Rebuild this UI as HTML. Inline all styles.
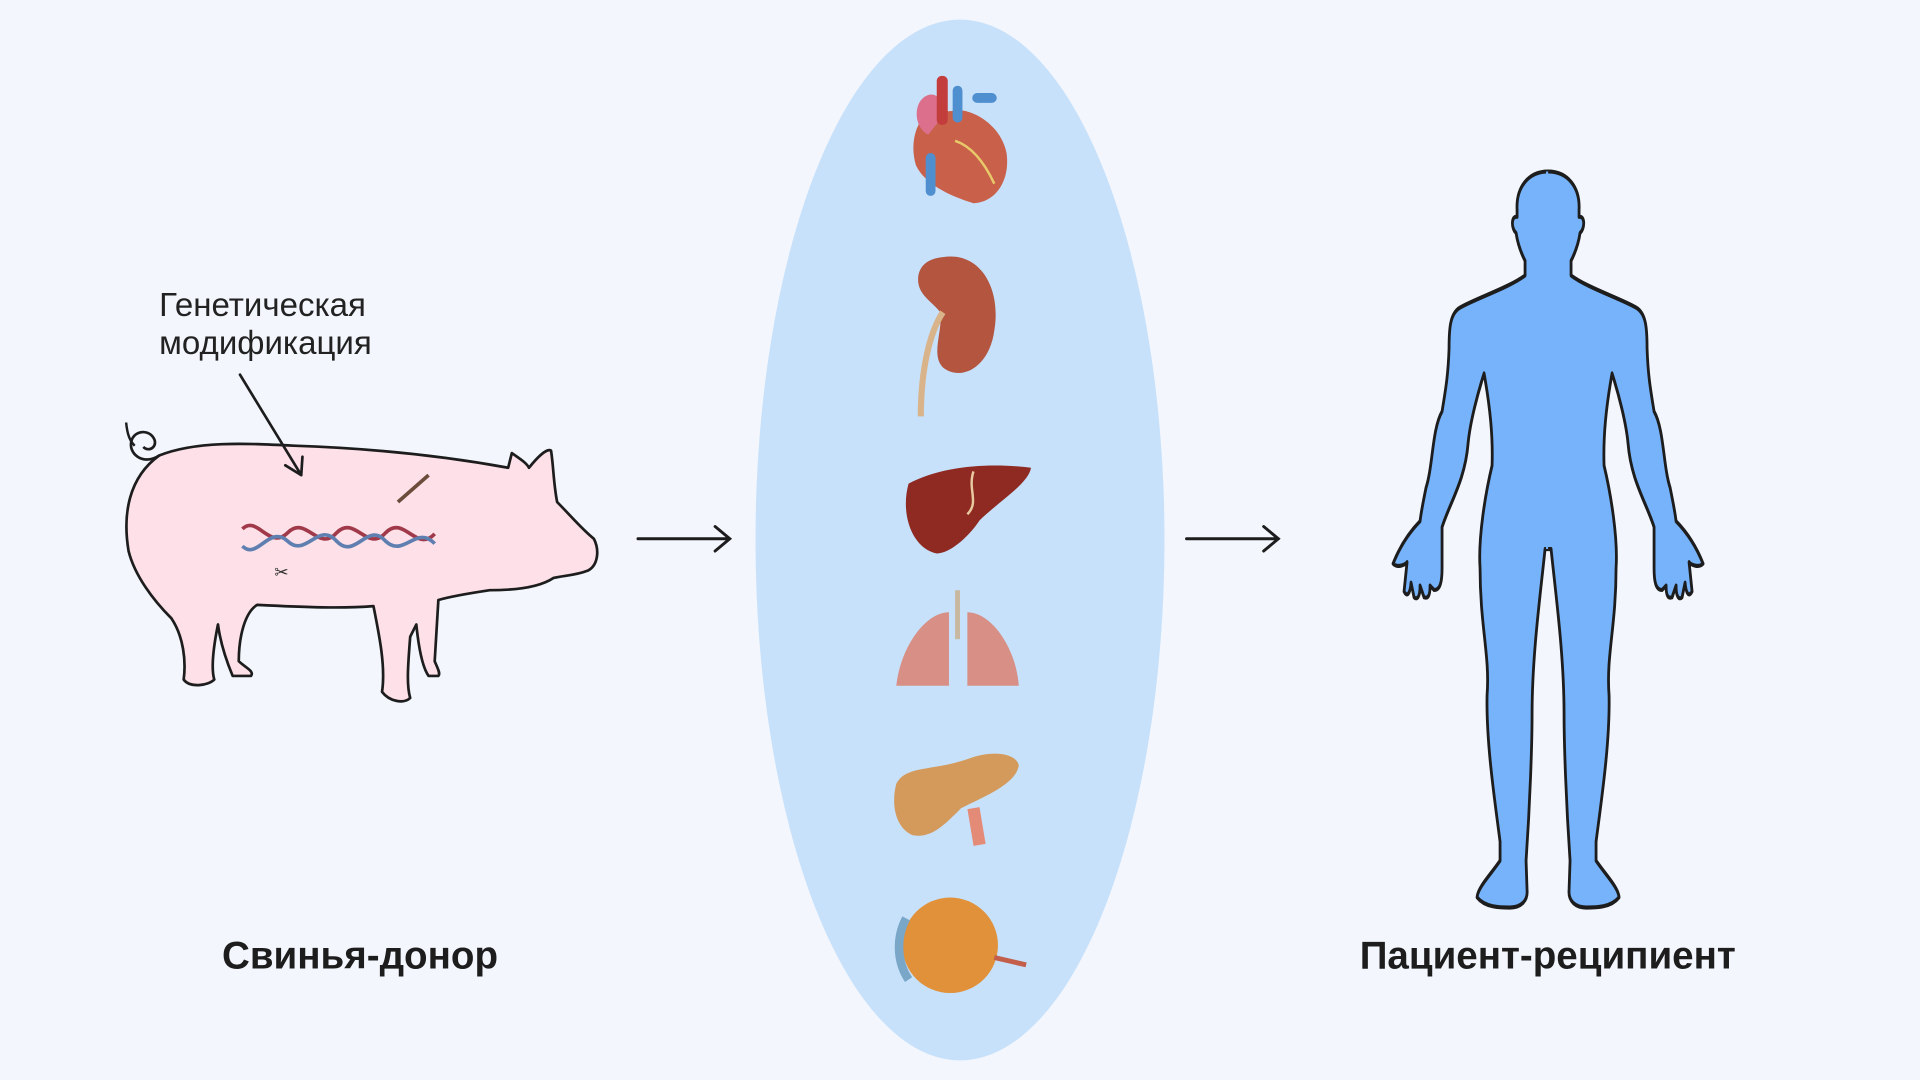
<!DOCTYPE html>
<html><head><meta charset="utf-8"><style>
html,body{margin:0;padding:0;background:#f3f6fd;}
svg{display:block;}
text{font-family:"Liberation Sans","DejaVu Sans",sans-serif;}
</style></head><body>
<svg width="1920" height="1080" viewBox="0 0 1568 882" xmlns="http://www.w3.org/2000/svg">
<rect width="1568" height="882" fill="#f3f6fd"/>
<ellipse cx="784" cy="441" rx="167" ry="425" fill="#c7e1fb"/>

<!-- pig -->
<path d="M130,372 C160,360 200,362 240,364 C300,366 360,372 415,382 L418,370 C425,375 430,378 432,382 C440,372 447,366 450,368 C452,380 452,395 455,410 C465,420 475,432 485,440 C490,450 488,462 480,466 C470,470 460,470 452,472 C440,480 420,482 400,482 C380,485 365,488 358,490 L355,540 C357,545 360,550 358,552 L350,552 C345,545 342,530 340,510 L335,520 C333,545 332,560 335,570 C330,575 318,573 312,565 C315,545 310,520 305,495 C280,497 250,496 210,494 C200,500 195,520 195,540 C200,545 208,548 205,552 L190,552 C185,540 180,525 178,510 C175,525 172,545 175,555 C170,560 155,562 150,555 C152,540 150,520 140,505 C125,490 110,470 105,450 C100,420 105,390 130,372 Z" fill="#fde0e8" stroke="#1d1d1d" stroke-width="2.2" stroke-linejoin="round"/>
<path d="M130,372 C118,380 106,372 107,362 C108,352 120,350 125,357 C130,364 122,370 117,365" fill="none" stroke="#1d1d1d" stroke-width="2.2"/>
<path d="M103,345 C104,355 106,360 110,364" fill="none" stroke="#1d1d1d" stroke-width="2"/>
<!-- DNA -->
<g fill="none" stroke-width="3">
<path d="M198,432 C210,420 220,450 235,435 C250,420 260,452 275,435 C290,420 300,452 315,435 C330,420 340,452 355,436" stroke="#a03a4a"/>
<path d="M198,446 C210,458 220,428 235,442 C250,456 260,425 275,442 C290,458 300,425 315,442 C330,456 340,428 355,444" stroke="#5f7fb0"/>
</g>
<path d="M325,410 L350,388" stroke="#6b4b3a" stroke-width="3"/>
<text x="224" y="472" font-size="14" fill="#333">✂</text>

<!-- annotation -->
<text x="130" y="258" font-size="27" fill="#222">Генетическая</text>
<text x="130" y="289" font-size="27" fill="#222">модификация</text>
<path d="M196,306 L246,388 M246,388 L233,380 M246,388 L247,373" stroke="#1d1d1d" stroke-width="2.2" fill="none" stroke-linecap="round"/>

<!-- arrows -->
<g stroke="#1d1d1d" stroke-width="2.4" fill="none" stroke-linecap="round">
<path d="M521,440 L596,440 M584,430 L596,440 L584,450"/>
<path d="M969,440 L1044,440 M1032,430 L1044,440 L1032,450"/>
</g>

<!-- organs -->
<path d="M760,92 C750,95 742,115 748,135 C755,150 775,160 795,166 C815,165 825,145 822,125 C818,105 800,92 785,90 Z" fill="#c9604a"/>
<path d="M752,82 C760,72 772,78 770,95 L758,110 C748,105 746,90 752,82 Z" fill="#dc6f8c"/>
<rect x="765" y="62" width="9" height="40" rx="4" fill="#c43d3d"/>
<rect x="778" y="70" width="8" height="30" rx="4" fill="#4f8fcf"/>
<rect x="794" y="76" width="20" height="8" rx="4" fill="#4f8fcf"/>
<rect x="756" y="125" width="8" height="35" rx="4" fill="#4f8fcf"/>
<path d="M780,115 C795,120 805,135 812,150" stroke="#e8c96a" stroke-width="2" fill="none"/>
<path d="M770,210 C800,205 818,235 812,270 C808,300 785,312 770,300 C760,290 770,270 768,255 C760,245 748,240 750,225 C752,215 760,211 770,210 Z" fill="#b3553f"/>
<path d="M770,255 C760,270 752,300 752,340" stroke="#d9b48a" stroke-width="5" fill="none"/>
<path d="M742,395 C770,380 810,378 842,382 C840,395 815,410 800,425 C790,440 775,452 765,452 C745,448 735,420 742,395 Z" fill="#8e2a22"/>
<path d="M795,385 C790,400 800,410 790,420" stroke="#e8c9a0" stroke-width="2" fill="none"/>
<path d="M775,500 C755,500 735,530 732,560 L775,560 Z" fill="#d88f86"/>
<path d="M790,500 C810,500 830,530 832,560 L790,560 Z" fill="#d88f86"/>
<rect x="780" y="482" width="4" height="40" fill="#c9b8a0"/>
<path d="M732,640 C740,625 760,630 790,620 C810,612 830,615 832,625 C830,640 805,650 785,660 C770,675 760,685 745,682 C730,675 728,655 732,640 Z" fill="#d49a5c"/>
<path d="M795,660 L800,690" stroke="#e48b78" stroke-width="10"/>
<circle cx="776" cy="772" r="39" fill="#e0913a"/>
<path d="M740,750 C732,765 732,785 742,800" stroke="#7aa6c8" stroke-width="7" fill="none"/>
<path d="M812,782 L838,788" stroke="#c25e4a" stroke-width="4"/>

<!-- labels -->
<text x="294" y="791" font-size="31.5" font-weight="bold" fill="#1d1d1d" text-anchor="middle">Свинья-донор</text>
<text x="1264" y="791" font-size="31.5" font-weight="bold" fill="#1d1d1d" text-anchor="middle">Пациент-реципиент</text>

<!-- human -->
<g transform="matrix(0.8167 0 0 1.195 0 -61.9)">
<path d="M1548,169 C1528,169 1516,180 1517,195 L1517,200 C1511,199 1511,208 1516,211 C1518,220 1522,226 1525,230 L1525,240 C1510,248 1475,256 1460,262 C1450,266 1449,276 1449,290 C1448,310 1445,320 1442,333 C1432,345 1433,370 1426,385 C1423,395 1421,402 1420,408 C1410,415 1400,425 1393,437 C1397,440 1405,438 1407,436 L1404,456 C1407,460 1410,458 1411,450 L1414,460 C1417,462 1420,460 1420,452 L1424,460 C1428,461 1430,459 1430,452 L1434,455 C1440,455 1442,450 1442,440 L1442,412 C1450,395 1465,380 1468,355 C1470,340 1478,320 1484,307 C1490,330 1493,350 1492,370 C1485,390 1478,420 1480,440 C1480,480 1490,500 1487,527 C1486,560 1495,600 1500,627 L1500,640 C1490,650 1478,658 1477,665 C1485,672 1500,672 1510,672 C1520,672 1528,668 1527,660 L1526,640 C1530,600 1532,560 1532,540 C1532,500 1540,460 1545,427 L1550,427 L1550,169 Z" fill="#76b3fa"/>
<path d="M1548,169 C1528,169 1516,180 1517,195 L1517,200 C1511,199 1511,208 1516,211 C1518,220 1522,226 1525,230 L1525,240 C1510,248 1475,256 1460,262 C1450,266 1449,276 1449,290 C1448,310 1445,320 1442,333 C1432,345 1433,370 1426,385 C1423,395 1421,402 1420,408 C1410,415 1400,425 1393,437 C1397,440 1405,438 1407,436 L1404,456 C1407,460 1410,458 1411,450 L1414,460 C1417,462 1420,460 1420,452 L1424,460 C1428,461 1430,459 1430,452 L1434,455 C1440,455 1442,450 1442,440 L1442,412 C1450,395 1465,380 1468,355 C1470,340 1478,320 1484,307 C1490,330 1493,350 1492,370 C1485,390 1478,420 1480,440 C1480,480 1490,500 1487,527 C1486,560 1495,600 1500,627 L1500,640 C1490,650 1478,658 1477,665 C1485,672 1500,672 1510,672 C1520,672 1528,668 1527,660 L1526,640 C1530,600 1532,560 1532,540 C1532,500 1540,460 1545,427 L1548,427" fill="none" stroke="#1d1d1d" stroke-width="2.8" stroke-linejoin="round"/>
<g transform="translate(3096,0) scale(-1,1)">
<path d="M1548,169 C1528,169 1516,180 1517,195 L1517,200 C1511,199 1511,208 1516,211 C1518,220 1522,226 1525,230 L1525,240 C1510,248 1475,256 1460,262 C1450,266 1449,276 1449,290 C1448,310 1445,320 1442,333 C1432,345 1433,370 1426,385 C1423,395 1421,402 1420,408 C1410,415 1400,425 1393,437 C1397,440 1405,438 1407,436 L1404,456 C1407,460 1410,458 1411,450 L1414,460 C1417,462 1420,460 1420,452 L1424,460 C1428,461 1430,459 1430,452 L1434,455 C1440,455 1442,450 1442,440 L1442,412 C1450,395 1465,380 1468,355 C1470,340 1478,320 1484,307 C1490,330 1493,350 1492,370 C1485,390 1478,420 1480,440 C1480,480 1490,500 1487,527 C1486,560 1495,600 1500,627 L1500,640 C1490,650 1478,658 1477,665 C1485,672 1500,672 1510,672 C1520,672 1528,668 1527,660 L1526,640 C1530,600 1532,560 1532,540 C1532,500 1540,460 1545,427 L1550,427 L1550,169 Z" fill="#76b3fa"/>
<path d="M1548,169 C1528,169 1516,180 1517,195 L1517,200 C1511,199 1511,208 1516,211 C1518,220 1522,226 1525,230 L1525,240 C1510,248 1475,256 1460,262 C1450,266 1449,276 1449,290 C1448,310 1445,320 1442,333 C1432,345 1433,370 1426,385 C1423,395 1421,402 1420,408 C1410,415 1400,425 1393,437 C1397,440 1405,438 1407,436 L1404,456 C1407,460 1410,458 1411,450 L1414,460 C1417,462 1420,460 1420,452 L1424,460 C1428,461 1430,459 1430,452 L1434,455 C1440,455 1442,450 1442,440 L1442,412 C1450,395 1465,380 1468,355 C1470,340 1478,320 1484,307 C1490,330 1493,350 1492,370 C1485,390 1478,420 1480,440 C1480,480 1490,500 1487,527 C1486,560 1495,600 1500,627 L1500,640 C1490,650 1478,658 1477,665 C1485,672 1500,672 1510,672 C1520,672 1528,668 1527,660 L1526,640 C1530,600 1532,560 1532,540 C1532,500 1540,460 1545,427 L1548,427" fill="none" stroke="#1d1d1d" stroke-width="2.8" stroke-linejoin="round"/>
</g>
</g>
</svg>
</body></html>
